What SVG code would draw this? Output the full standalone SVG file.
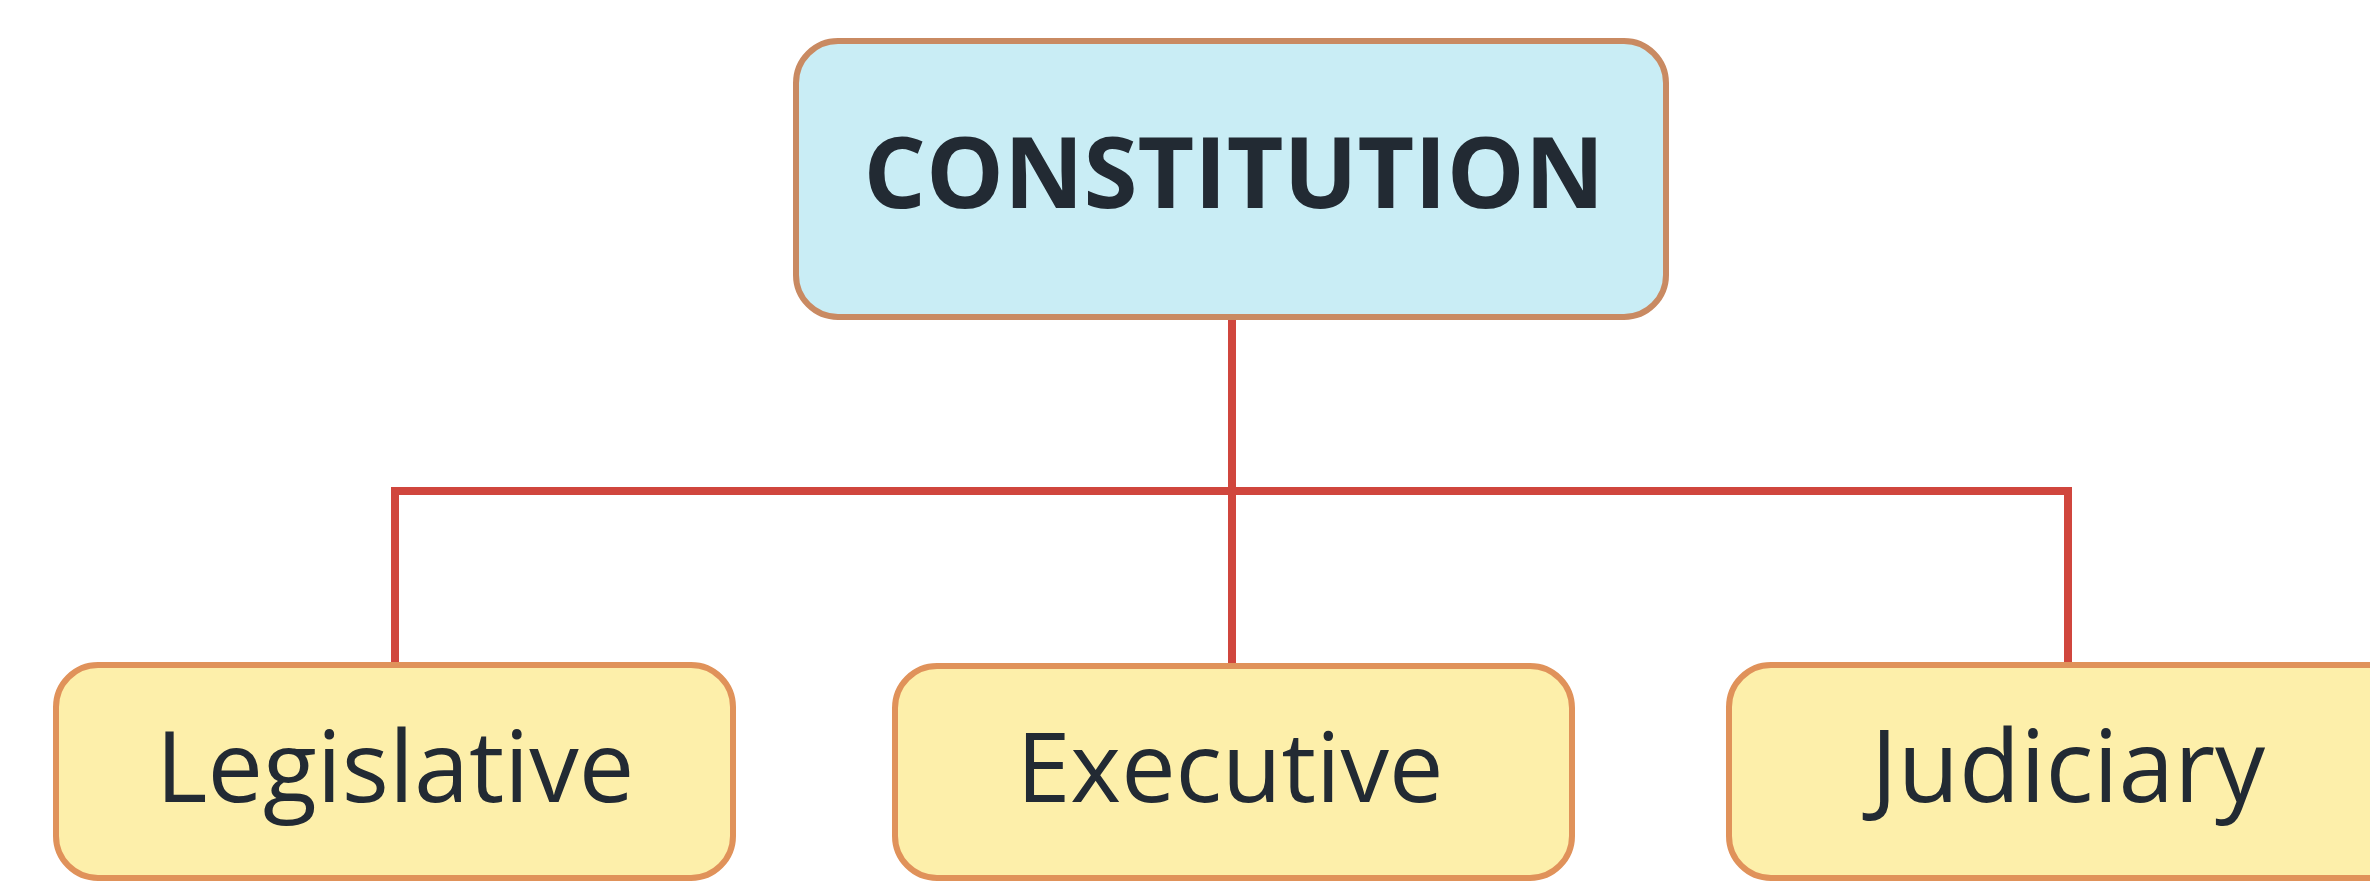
<svg xmlns="http://www.w3.org/2000/svg" width="2370" height="881" viewBox="0 0 2370 881">
<style>
.top{fill:#c9edf5;stroke:#c98a62;stroke-width:6}
.leaf{fill:#fdefaa;stroke:#e0925a;stroke-width:6}
.lbl{font-family:"Open Sans","Noto Sans",sans-serif;fill:#222a33;text-anchor:middle}
.conn{fill:none;stroke:#d0463d;stroke-width:8}
</style>
<rect width="2370" height="881" fill="#ffffff"/>
<g id="connectors">
<path class="conn" d="M1232,317 V491"/>
<path class="conn" d="M395,664 V491 H2068 V664"/>
<path class="conn" d="M1232,491 V666"/>
</g>
<g id="constitution">
<rect class="top" x="796" y="41" width="870" height="276" rx="42"/>
<text class="lbl" x="1234" y="208" font-size="98" font-weight="bold">CONSTITUTION</text>
</g>
<g id="legislative">
<rect class="leaf" x="56" y="665" width="677" height="213" rx="42"/>
<text class="lbl" x="395" y="802" font-size="99">Legislative</text>
</g>
<g id="executive">
<rect class="leaf" x="895" y="666" width="677" height="212" rx="42"/>
<text class="lbl" x="1230" y="802" font-size="97">Executive</text>
</g>
<g id="judiciary">
<rect class="leaf" x="1729" y="665" width="690" height="213" rx="42"/>
<text class="lbl" x="2068" y="802" font-size="100">Judiciary</text>
</g>
</svg>
